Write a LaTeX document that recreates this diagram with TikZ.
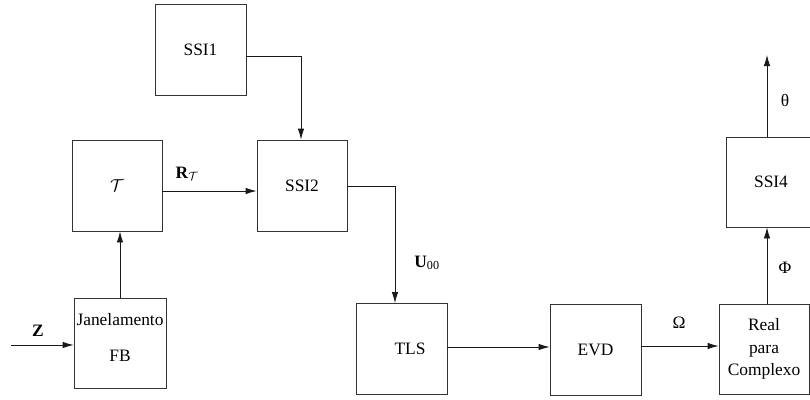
\documentclass[tikz,border=0pt]{standalone}
\usepackage{fontspec}
\setmainfont{Liberation Serif}
\usetikzlibrary{arrows.meta}
\begin{document}
\begin{tikzpicture}[x=1pt,y=-1pt,
  blk/.style={draw=black!80,line width=0.8pt,minimum width=91pt,minimum height=91pt,inner sep=0pt,
    font=\fontsize{17.4}{21}\selectfont,align=center},
  lbl/.style={font=\fontsize{17.4}{21}\selectfont,inner sep=0pt},
  con/.style={draw=black!90,line width=0.8pt},
  arr/.style={con,-{Latex[length=11pt,width=6.5pt]}}]
\useasboundingbox (0,0) rectangle (810,399);
\node[blk] (ssi1) at (200.5,50) {SSI1};
\node[blk,minimum width=90pt] (T) at (117,185.5) {$\mathcal{T}$};
\node[blk,minimum width=90pt] (ssi2) at (302,185.5) {SSI2};
\node[blk,minimum width=92pt,minimum height=90pt] (jan) at (120,343) {};
\node[lbl] (jant) at (120,320) {Janelamento};
\node[lbl] (fbt) at (120,356) {FB};
\node[blk] (tls) at (401.5,349) {};
\node[lbl] (tlst) at (410,349) {TLS};
\node[blk] (evd) at (595.5,349.5) {EVD};
\node[blk,minimum width=90pt,minimum height=90pt,font=\fontsize{17.4}{22.5}\selectfont] (real) at (764,349) {Real\\para\\Complexo};
\node[blk,minimum width=90pt,minimum height=90pt] (ssi4) at (771,182) {SSI4};
\coordinate (zin) at (11,345);
\coordinate (out) at (767,55);
\draw[arr] (zin) -- (zin -| jan.west);
\node[lbl] (zl) at (38,331) {\textbf{Z}};
\draw[arr] (jan.north) -- (jan.north |- T.south);
\draw[arr] ([yshift=-5.5pt]T.east) -- ([yshift=-5.5pt]ssi2.west);
\node[lbl] (rl) at (187,174) {\textbf{R}\textsubscript{$\mathcal{T}$}};
\draw[arr] ([yshift=-6pt]ssi1.east) -| ([xshift=-1pt]ssi2.north);
\draw[arr] ([yshift=-0.5pt]ssi2.east) -| ([xshift=-6.5pt]tls.north);
\node[lbl] (ul) at (427,263) {\textbf{U}\textsubscript{00}};
\draw[arr] ([yshift=2pt]tls.east) -- ([yshift=2pt]tls.east -| evd.west);
\draw[arr] ([yshift=3.5pt]evd.east) -- ([yshift=3.5pt]evd.east -| real.west);
\node[lbl] (om) at (679,323) {Ω};
\draw[arr] ([xshift=3pt]real.north) -- ([xshift=3pt]real.north |- ssi4.south);
\node[lbl] (ph) at (785,268) {Φ};
\draw[arr] (out |- ssi4.north) -- (out);
\node[lbl] (th) at (785,100) {θ};
\end{tikzpicture}
\end{document}
